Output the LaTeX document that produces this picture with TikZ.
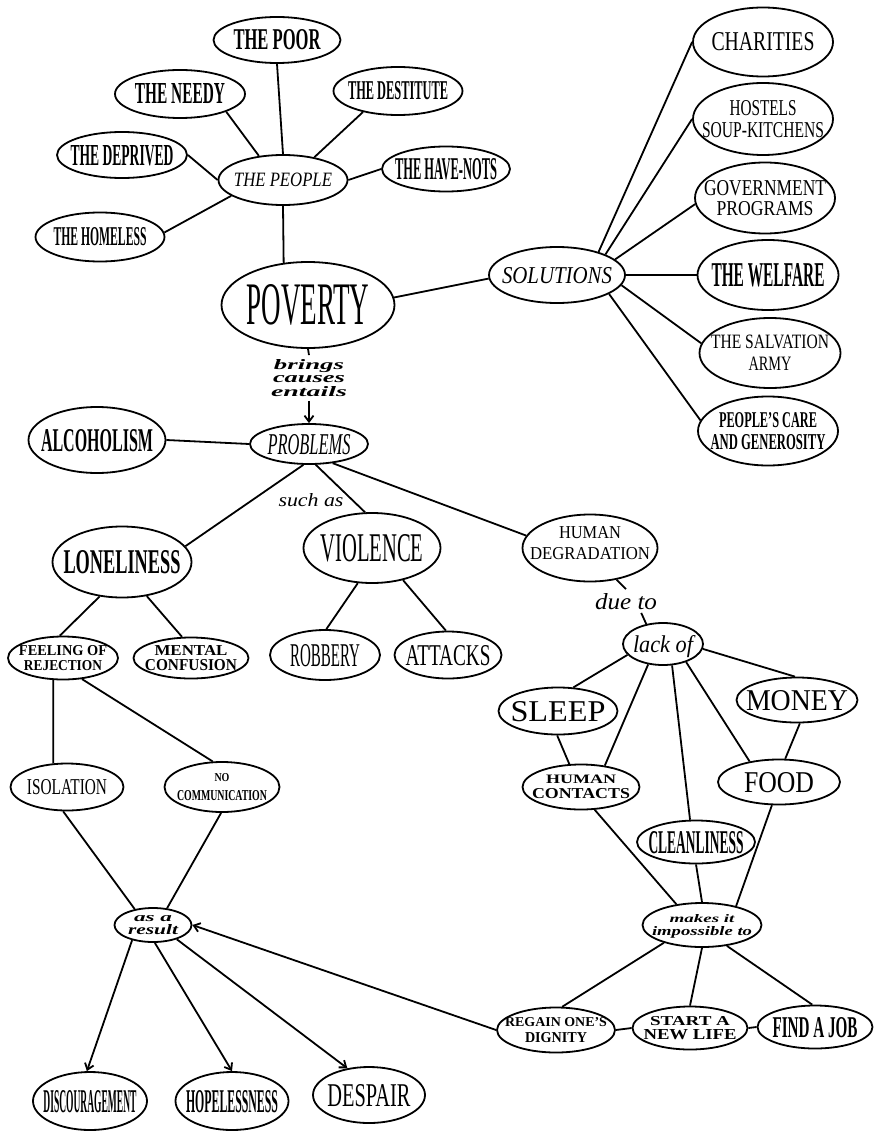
\documentclass[tikz,border=0pt]{standalone}
\usepackage{fontspec}
\setmainfont{Liberation Serif}
\usepackage{graphicx}
\usetikzlibrary{shapes.geometric,arrows.meta}
\newcommand\Ta[3]{\makebox[0pt]{\smash{\raisebox{-0.5\height}{\resizebox{#1pt}{#2pt}{#3}}}}}
\newcommand\Tb[7]{\makebox[0pt]{\smash{\raisebox{-0.5\height}{\shortstack{\resizebox{#1pt}{#2pt}{#3}\\[#7pt]\resizebox{#4pt}{#5pt}{#6}}}}}}
\newcommand\Up[2]{\smash{\raisebox{#1pt}{#2}}}
\begin{document}
\begin{tikzpicture}[x=1pt,y=-1pt,line width=1.8pt,
  el/.style 2 args={ellipse,draw,inner sep=0pt,minimum width=#1pt,minimum height=#2pt},
  lab/.style 2 args={inner sep=0pt,minimum width=#1pt,minimum height=#2pt},
  arr/.style={-{Straight Barb[length=6pt,width=9pt]}}]
\useasboundingbox (0,0) rectangle (875,1134);
% top cluster
\node[el={127}{46}] (poor) at (277,40) {\Ta{87}{20}{\bfseries THE POOR}};
\node[el={130}{48}] (needy) at (180,94) {\Ta{90}{20}{\bfseries THE NEEDY}};
\node[el={129}{48}] (dest) at (398,91) {\Ta{100}{18}{\bfseries THE DESTITUTE}};
\node[el={130}{46}] (depr) at (122,155) {\Ta{103}{20}{\bfseries THE DEPRIVED}};
\node[el={129}{50}] (people) at (283,180) {\Ta{98}{13.5}{\itshape THE PEOPLE}};
\node[el={128}{45}] (have) at (446,169) {\Ta{102}{21}{\bfseries THE HAVE-NOTS}};
\node[el={129}{49}] (home) at (100,237) {\Ta{93}{18}{\bfseries THE HOMELESS}};
\node[el={173}{86}] (pov) at (308,305) {\Ta{123}{40}{POVERTY}};
% solutions
\node[el={136}{56}] (sol) at (557,275) {\Ta{110}{16}{\itshape SOLUTIONS}};
\node[el={140}{69}] (char) at (763,42) {\Ta{103}{18}{CHARITIES}};
\node[el={140}{72}] (host) at (763,119) {\Tb{67}{15}{HOSTELS}{122}{15}{SOUP-KITCHENS}{3}};
\node[el={140}{71}] (gov) at (765,198) {\Tb{122}{15}{GOVERNMENT}{97}{14}{PROGRAMS}{3}};
\node[el={141}{70}] (welf) at (768,275) {\Ta{113}{23}{\bfseries THE WELFARE}};
\node[el={141}{70}] (salv) at (770,353) {\Tb{118}{13.5}{THE SALVATION}{43}{13.5}{ARMY}{5}};
\node[el={140}{69}] (care) at (768,431) {\Tb{98}{15}{\bfseries PEOPLE'S CARE}{115}{15}{\bfseries AND GENEROSITY}{4}};
% problems
\node[lab={80}{44}] (bce) at (309,378) {\makebox[0pt]{\smash{\raisebox{-0.5\height}{\shortstack{\resizebox{70pt}{10pt}{\bfseries\itshape brings}\\[0pt]\resizebox{72pt}{7pt}{\bfseries\itshape causes}\\[0pt]\resizebox{76pt}{10pt}{\bfseries\itshape entails}}}}}};
\node[el={137}{66}] (alc) at (97,440) {\Ta{112}{22}{\bfseries ALCOHOLISM}};
\node[el={118}{40}] (prob) at (309,444) {\Ta{83}{20}{\itshape PROBLEMS}};
\node[lab={65}{14}] (such) at (311,500) {\Ta{65}{13}{\itshape such as}};
\node[el={139}{71}] (lone) at (122,562) {\Ta{117}{23}{\bfseries LONELINESS}};
\node[el={137}{70}] (viol) at (372,548) {\Ta{103}{27}{VIOLENCE}};
\node[el={135}{67}] (hdeg) at (590,548) {\Up{5}{\Tb{62}{12}{HUMAN}{120}{12}{DEGRADATION}{6}}};
\node[el={110}{43}] (feel) at (63,658) {\Tb{88}{10}{\bfseries FEELING OF}{78}{10}{\bfseries REJECTION}{2}};
\node[el={115}{41}] (ment) at (191,658) {\Tb{73}{10}{\bfseries MENTAL}{92}{11}{\bfseries CONFUSION}{1}};
\node[el={110}{50}] (rob) at (325,655) {\Ta{70}{22}{ROBBERY}};
\node[el={107}{47}] (att) at (448,655) {\Ta{85}{20}{ATTACKS}};
\node[el={113}{47}] (iso) at (67,787) {\Ta{80}{15}{ISOLATION}};
\node[el={115}{50}] (nocom) at (222,787) {\Tb{15}{8}{\bfseries NO}{90}{10}{\bfseries COMMUNICATION}{5}};
\node[el={77}{34}] (res) at (153,925) {\Tb{38}{6}{\bfseries\itshape as a}{50}{10}{\bfseries\itshape result}{0}};
\node[el={114}{58}] (disc) at (90,1101) {\Ta{93}{22}{\bfseries DISCOURAGEMENT}};
\node[el={113}{58}] (hope) at (232,1101) {\Ta{92}{22}{\bfseries HOPELESSNESS}};
\node[el={112}{56}] (desp) at (369,1095) {\Ta{83}{22}{DESPAIR}};
% lack of
\node[lab={62}{22}] (due) at (626,601) {\Ta{62}{16}{\itshape due to}};
\node[el={80}{42}] (lack) at (663,644) {\Ta{60}{17}{\itshape lack of}};
\node[el={119}{47}] (sleep) at (558,711) {\Ta{95}{20}{SLEEP}};
\node[el={121}{45}] (money) at (797,700) {\Ta{102}{20}{MONEY}};
\node[el={117}{45}] (hcon) at (581,787) {\Tb{70}{8.5}{\bfseries HUMAN}{98}{10}{\bfseries CONTACTS}{2}};
\node[el={122}{45}] (food) at (779,782) {\Ta{70}{20}{FOOD}};
\node[el={118}{43}] (clean) at (696,842) {\Ta{95}{22}{\bfseries CLEANLINESS}};
\node[el={119}{44}] (makes) at (702,925) {\Tb{65}{8}{\bfseries\itshape makes it}{100}{9}{\bfseries\itshape impossible to}{0}};
\node[el={118}{45}] (regain) at (556,1030) {\Tb{102}{9}{\bfseries REGAIN ONE'S}{62}{10}{\bfseries DIGNITY}{2}};
\node[el={115}{43}] (start) at (690,1028) {\Tb{80}{9}{\bfseries START A}{93}{10}{\bfseries NEW LIFE}{1}};
\node[el={115}{43}] (job) at (815,1027) {\Ta{85}{20}{\bfseries FIND A JOB}};
% connectors: people
\draw (poor.south) -- (people.north);
\draw (needy.-21) -- (people.135);
\draw (dest.211) -- (people.36);
\draw (depr.east) -- (people.west);
\draw (have.west) -- (people.east);
\draw (home.4) -- (people.197);
\draw (people.south) -- (pov.120);
% solutions
\draw (pov.5) -- (sol.183);
\draw (sol.29) -- (char.west);
\draw (sol.23) -- (host.west);
\draw (sol.15) -- (gov.185);
\draw (sol.east) -- (welf.west);
\draw (sol.-9) -- (salv.172);
\draw (sol.-20) -- (care.171);
% problems
\draw (pov.south) -- (bce.north);
\draw[arr] (bce.south) -- (prob.north);
\draw (alc.east) -- (prob.west);
\draw (prob.-105) -- (lone.14);
\draw (prob.-72) -- (viol.101);
\draw (prob.-39) -- (hdeg.169);
\draw (lone.-123) -- (feel.98);
\draw (lone.-54) -- (ment.113);
\draw (viol.-112) -- (rob.87);
\draw (viol.-46) -- (att.95);
\draw (feel.-114) -- (iso.120);
\draw (feel.-48) -- (nocom.110);
\draw (iso.-99) -- (res.139);
\draw (nocom.-92) -- (res.50);
\draw[arr] (res.-144) -- (disc.96);
\draw[arr] (res.-84) -- (hope.north);
\draw[arr] (res.-31) -- (desp.129);
\draw[arr] (regain.west) -- (res.east);
% lack of
\draw (hdeg.-50) -- (due.north);
\draw (due.-38) -- (lack.130);
\draw (lack.197) -- (sleep.57);
\draw (lack.-126) -- (hcon.42);
\draw (lack.-67) -- (clean.105);
\draw (lack.-38) -- (food.145);
\draw (lack.-7) -- (money.95);
\draw (sleep.-92) -- (hcon.117);
\draw (money.-83) -- (food.75);
\draw (hcon.-59) -- (makes.141);
\draw (clean.south) -- (makes.north);
\draw (food.-107) -- (makes.29);
\draw (makes.-155) -- (regain.75);
\draw (makes.south) -- (start.north);
\draw (makes.-40) -- (job.97);
\draw (regain.east) -- (start.west);
\draw (start.east) -- (job.west);
\end{tikzpicture}
\end{document}
